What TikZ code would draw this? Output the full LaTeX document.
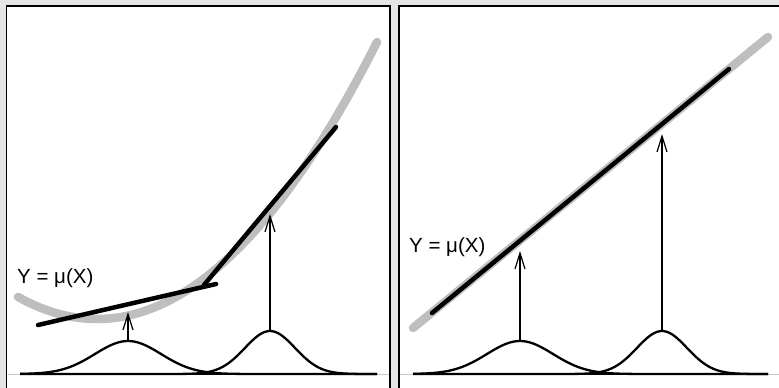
\documentclass[tikz,border=0pt]{standalone}
\usepackage{fontspec}
\newfontfamily\labfont{Liberation Sans}
\usetikzlibrary{arrows.meta}
\definecolor{bggray}{HTML}{E5E5E5}
\definecolor{curvegray}{HTML}{BEBEBE}
\definecolor{axisgray}{HTML}{C8C8C8}
\tikzset{
  panel/.style={fill=white, draw=black, line width=1.5pt},
  meancurve/.style={draw=curvegray, line width=8.5pt, line cap=round},
  fitline/.style={draw=black, line width=4.5pt, line cap=round},
  density/.style={draw=black, line width=2.3pt},
  baseaxis/.style={draw=black, line width=2.7pt},
  thinaxis/.style={draw=axisgray, line width=1pt},
  uparrow/.style={draw=black, line width=1.2pt, -{Straight Barb[length=16pt,width=10pt,line width=1.2pt]}},
  eqlabel/.style={font=\labfont\fontsize{20.5}{23}\selectfont, inner sep=0pt}
}
\begin{document}
\begin{tikzpicture}[x=1pt,y=-1pt]
\useasboundingbox (0,0) rectangle (779,388);
\fill[bggray] (0,0) rectangle (779,388);
% panels
\draw[panel] (6.5,6) rectangle (390,395);
\draw[panel] (399,6) rectangle (790,395);
% ---------- left panel ----------
\draw[thinaxis] (7.5,374) -- (389,374);
\draw[meancurve] plot[domain=18:377,samples=80,smooth] (\x,{319-273*((\x-97)/278)^2});
\coordinate (la1) at (38,325);
\coordinate (lb1) at (216,284);
\coordinate (la2) at (204,285);
\coordinate (lb2) at (336,127);
\draw[fitline] (la1) -- (lb1);
\draw[fitline] (la2) -- (lb2);
\draw[density] plot[domain=20:377,samples=120,smooth] (\x,{374-33*exp(-0.5*((\x-128)/33)^2)});
\draw[density] plot[domain=20:377,samples=120,smooth] (\x,{374-43*exp(-0.5*((\x-270)/25)^2)});
\draw[baseaxis] (20,374) -- (377,374);
\coordinate (lp1) at (128,341);
\coordinate (lt1) at (128,312);
\coordinate (lp2) at (270,331);
\coordinate (lt2) at (270,214);
\draw[uparrow] (lp1) -- (lt1);
\draw[uparrow] (lp2) -- (lt2);
\node[eqlabel, anchor=west] (leq) at (17,278) {Y = μ(X)};
% ---------- right panel ----------
\draw[thinaxis] (400,374) -- (779,374);
\coordinate (rg1) at (413,328);
\coordinate (rg2) at (768,37);
\draw[meancurve] (rg1) -- (rg2);
\coordinate (rb1) at (432,313);
\coordinate (rb2) at (729,69);
\draw[fitline] (rb1) -- (rb2);
\draw[density] plot[domain=413:768,samples=120,smooth] (\x,{374-33*exp(-0.5*((\x-520)/33)^2)});
\draw[density] plot[domain=413:768,samples=120,smooth] (\x,{374-43*exp(-0.5*((\x-662)/25)^2)});
\draw[baseaxis] (413,374) -- (768,374);
\coordinate (rp1) at (520,341);
\coordinate (rt1) at (520,251);
\coordinate (rp2) at (662,331);
\coordinate (rt2) at (662,134);
\draw[uparrow] (rp1) -- (rt1);
\draw[uparrow] (rp2) -- (rt2);
\node[eqlabel, anchor=west] (req) at (409,247) {Y = μ(X)};
\end{tikzpicture}
\end{document}
